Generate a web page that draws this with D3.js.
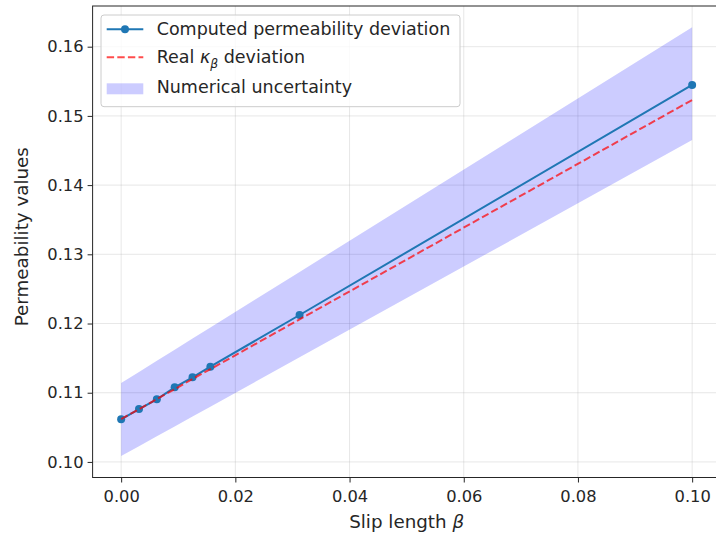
<!DOCTYPE html>
<html><head><meta charset="utf-8">
<script src="https://cdn.jsdelivr.net/npm/d3@7"></script>
<style>body{margin:0;background:#fff}svg{display:block}text{font-family:"DejaVu Sans",sans-serif;fill:#262626}</style>
</head><body><svg id="c" width="716" height="537"></svg>
<script>
const slipLength = [0, 0.003125, 0.00625, 0.009375, 0.0125, 0.015625, 0.03125, 0.1];
const computed   = [0.10616, 0.10764, 0.10905, 0.11078, 0.11223, 0.11376, 0.12123, 0.15447];
const realKappa  = [0.1062, 0.1076, 0.1091, 0.1105, 0.1120, 0.1134, 0.1206, 0.1523];
const bandUpper  = [0.11140, 0.11301, 0.11461, 0.11622, 0.11783, 0.11943, 0.12746, 0.1628];
const bandLower  = [0.10085, 0.10228, 0.10370, 0.10513, 0.10656, 0.10798, 0.11512, 0.1465];
const xTicks = [0, 0.02, 0.04, 0.06, 0.08, 0.10];
const yTicks = [0.10, 0.11, 0.12, 0.13, 0.14, 0.15, 0.16];

const svg = d3.select("#c");
const L = 92.6, R = 720.7, T = 6, B = 477.5;
const x = d3.scaleLinear().domain([-0.005, 0.105]).range([L, R]);
const y = d3.scaleLinear().domain([0.09775, 0.16588]).range([B, T]);
const tickFs = 16.3, labFs = 18.3, legFs = 17.5;

// grid
const g = svg.append("g");
g.selectAll(".gx").data(xTicks).join("line").attr("x1",d=>x(d)).attr("x2",d=>x(d)).attr("y1",T).attr("y2",B).attr("stroke","#b0b0b0").attr("stroke-opacity",0.3).attr("stroke-width",1);
g.selectAll(".gy").data(yTicks).join("line").attr("x1",L).attr("x2",R).attr("y1",d=>y(d)).attr("y2",d=>y(d)).attr("stroke","#b0b0b0").attr("stroke-opacity",0.3).attr("stroke-width",1);

const idx = d3.range(slipLength.length);
// band
svg.append("path").datum(idx).attr("fill","#0000ff").attr("fill-opacity",0.2)
  .attr("d", d3.area().x(i=>x(slipLength[i])).y0(i=>y(bandLower[i])).y1(i=>y(bandUpper[i])));
// computed line
svg.append("path").datum(idx).attr("fill","none").attr("stroke","#1f77b4").attr("stroke-width",2)
  .attr("d", d3.line().x(i=>x(slipLength[i])).y(i=>y(computed[i])));
svg.selectAll(".pt").data(idx).join("circle").attr("cx",i=>x(slipLength[i])).attr("cy",i=>y(computed[i])).attr("r",4).attr("fill","#1f77b4");
// real line
svg.append("path").datum(idx).attr("fill","none").attr("stroke","#ff0000").attr("stroke-opacity",0.7).attr("stroke-width",2).attr("stroke-dasharray","7.4,3.2")
  .attr("d", d3.line().x(i=>x(slipLength[i])).y(i=>y(realKappa[i])));

// axes
const xa = svg.append("g").attr("transform",`translate(0,${B})`).call(d3.axisBottom(x).tickValues(xTicks).tickFormat(d3.format(".2f")).tickSizeOuter(0).tickSize(5).tickPadding(7.9));
const ya = svg.append("g").attr("transform",`translate(${L},0)`).call(d3.axisLeft(y).tickValues(yTicks).tickFormat(d3.format(".2f")).tickSizeOuter(0).tickSize(5).tickPadding(4));
[xa,ya].forEach(a=>{a.selectAll("text").attr("font-size",tickFs).attr("font-family","DejaVu Sans").attr("fill","#262626");a.selectAll("line").attr("stroke","#262626").attr("stroke-width",1);a.select(".domain").remove();});
svg.append("rect").attr("x",L).attr("y",T).attr("width",R-L).attr("height",B-T).attr("fill","none").attr("stroke","#262626").attr("stroke-width",1);

// labels
const xl = svg.append("text").attr("x",(L+R)/2).attr("y",528.3).attr("text-anchor","middle").attr("font-size",labFs);
xl.append("tspan").text("Slip length ");
xl.append("tspan").attr("font-style","italic").text("β");
svg.append("text").attr("transform",`translate(28,236.7) rotate(-90)`).attr("text-anchor","middle").attr("font-size",labFs).text("Permeability values");

// legend
const lg = svg.append("g");
lg.append("rect").attr("x",101).attr("y",15).attr("width",359).attr("height",91.7).attr("rx",3).attr("fill","#fff").attr("fill-opacity",0.8).attr("stroke","#cccccc");
lg.append("line").attr("x1",106.7).attr("x2",143.3).attr("y1",29.3).attr("y2",29.3).attr("stroke","#1f77b4").attr("stroke-width",2);
lg.append("circle").attr("cx",125).attr("cy",29.3).attr("r",4).attr("fill","#1f77b4");
lg.append("text").attr("x",156.7).attr("y",35).attr("font-size",legFs).text("Computed permeability deviation");
lg.append("line").attr("x1",106.7).attr("x2",143.3).attr("y1",57.3).attr("y2",57.3).attr("stroke","#ff0000").attr("stroke-opacity",0.7).attr("stroke-width",2).attr("stroke-dasharray","7.4,3.2");
const t2 = lg.append("text").attr("x",156.7).attr("y",63.3).attr("font-size",legFs);
t2.append("tspan").text("Real ");
t2.append("tspan").attr("font-style","italic").text("κ");
t2.append("tspan").attr("font-style","italic").attr("font-size",legFs*0.7).attr("dy",4.5).text("β");
t2.append("tspan").attr("dy",-4.5).text(" deviation");
lg.append("rect").attr("x",106.7).attr("y",83.3).attr("width",36.6).attr("height",11).attr("fill","#0000ff").attr("fill-opacity",0.2);
lg.append("text").attr("x",156.7).attr("y",93.3).attr("font-size",legFs).text("Numerical uncertainty");
</script></body></html>
